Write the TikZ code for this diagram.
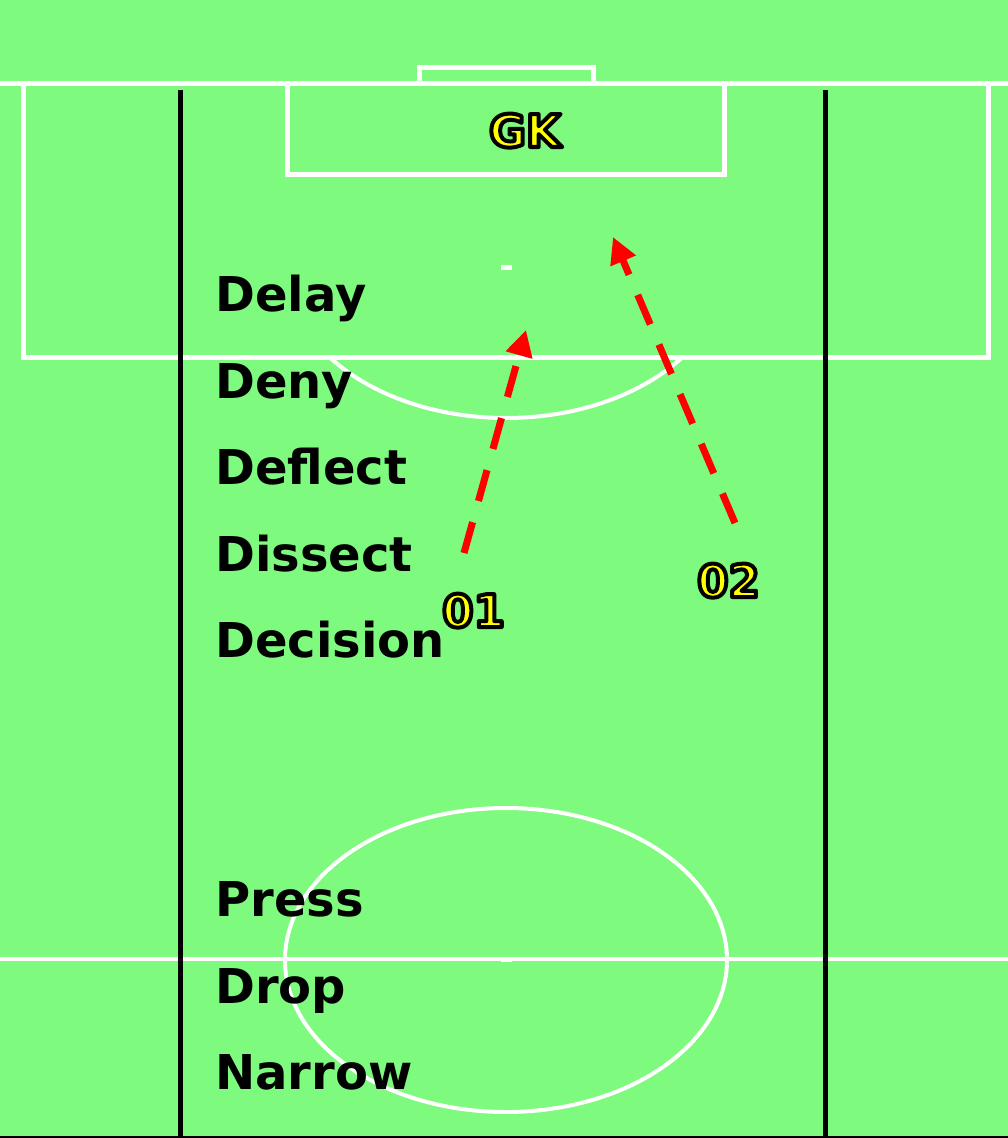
\documentclass[tikz,border=0pt]{standalone}
\usepackage{fontspec}
\setmainfont{DejaVu Sans}
\usetikzlibrary{arrows.meta}
\definecolor{pitch}{RGB}{126,250,126}
\definecolor{runred}{RGB}{255,0,0}
\definecolor{tag}{RGB}{255,255,0}
\tikzset{
  mark line/.style={draw=white, line width=5pt},
  thin mark/.style={draw=white, line width=4pt},
  channel/.style={draw=black, line width=5pt},
  phase/.style={anchor=base west, font=\fontsize{48}{56}\selectfont\bfseries, text=black, inner sep=0pt},
  player/.style={anchor=base west, font=\fontsize{45}{52}\selectfont\bfseries, inner sep=0pt},
  run/.style={draw=runred, line width=7pt, dash pattern=on 32pt off 22pt,
    -{Triangle[length=26pt, width=26pt]}}
}
% yellow glyphs with a black stroked outline (fill + stroke text rendering)
\newcommand{\yellowtag}[1]{\textcolor{tag}{\special{pdf:literal direct 2 Tr 4 w 1 j 0 0 0 RG}#1\special{pdf:literal direct 0 Tr}}}
\begin{document}
\begin{tikzpicture}[x=1pt, y=-1pt]
  % grass
  \fill[pitch] (0,0) rectangle (1008,1138);
  \useasboundingbox (0,0) rectangle (1008,1138);

  % goal line, goal, penalty and goal areas
  \draw[mark line] (0,83) -- (1008,83);
  \draw[mark line] (419,83) -- (419,67) -- (593,67) -- (593,83);
  \draw[mark line] (23,83) -- (23,357) -- (988,357) -- (988,83);
  \draw[mark line] (287,83) -- (287,174) -- (724,174) -- (724,83);
  % penalty spot and D
  \fill[white] (501,265) rectangle (512,270);
  \begin{scope}
    \clip (0,357) rectangle (1008,600);
    \draw[thin mark] (506,267) ellipse [x radius=220, y radius=151];
  \end{scope}

  % halfway line, centre circle and spot
  \draw[thin mark] (0,959) -- (1008,959);
  \draw[thin mark] (506,960) ellipse [x radius=221, y radius=152];
  \fill[white] (501,957) rectangle (512,962);

  % channel lines
  \draw[channel] (180,90) -- (180,1138);
  \draw[channel] (825,90) -- (825,1138);
  \draw[black, line width=2pt] (0,1137) -- (1008,1137);

  % phases
  \node[phase] (delay) at (215,311) {Delay};
  \node[phase] (deny) at (215,398) {Deny};
  \node[phase] (deflect) at (215,484) {Deflect};
  \node[phase] (dissect) at (215,571) {Dissect};
  \node[phase] (decision) at (215,657) {Decision};
  \node[phase] (press) at (215,916) {Press};
  \node[phase] (drop) at (215,1003) {Drop};
  \node[phase] (narrow) at (215,1089) {Narrow};

  % players
  \node[player, anchor=base] (gk) at (525,147) {\yellowtag{GK}};
  \node[player] (p1) at (442,627) {\yellowtag{01}};
  \node[player] (p2) at (697,597) {\yellowtag{02}};

  % runs
  \coordinate (r1start) at (464,553);
  \coordinate (r1end) at (526,330);
  \coordinate (r2start) at (735,523);
  \coordinate (r2end) at (613,237);
  \draw[run] (r1start) -- (r1end);
  \draw[run] (r2start) -- (r2end);
\end{tikzpicture}
\end{document}
